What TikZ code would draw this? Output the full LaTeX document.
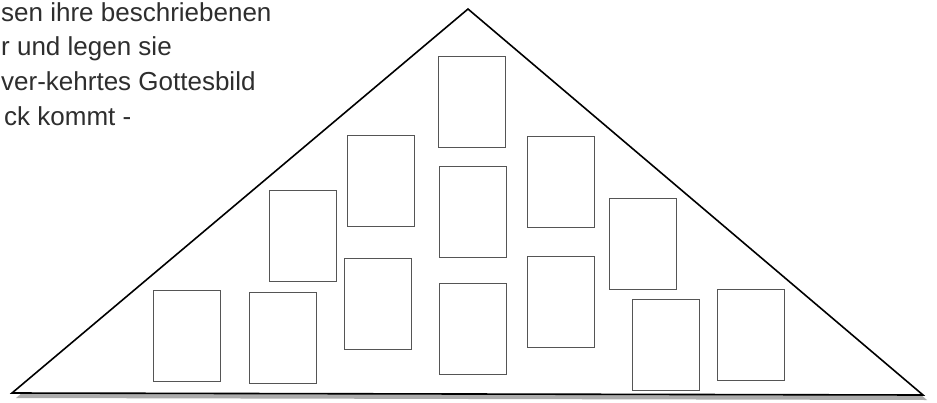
\documentclass[tikz,border=0pt]{standalone}
\usepackage{fontspec}
\setmainfont{Liberation Sans}
\usepackage{tikz}
\usetikzlibrary{positioning}
\definecolor{inkgray}{HTML}{2E2E2E}
\definecolor{cardline}{HTML}{555555}

\begin{document}
\begin{tikzpicture}[
  x=1pt, y=-1pt,
  card/.style={rectangle, draw=cardline, line width=0.9pt, minimum width=67pt, minimum height=91pt, inner sep=0pt},
  txt/.style={anchor=base west, inner sep=0pt, text=inkgray, font=\fontsize{26}{30}\selectfont},
  roof/.style={draw=black, line width=1.6pt, line join=miter, fill=white},
]
\useasboundingbox (0,0) rectangle (937,402);
\fill[white] (0,0) rectangle (937,402);

% text, cut off on the left
\node[txt] (l1) at (1,21) {sen ihre beschriebenen};
\node[txt] (l2) at (1,55) {r und legen sie};
\node[txt] (l3) at (1,90) {ver-kehrtes Gottesbild};
\node[txt] (l4) at (4,125) {ck kommt -};

% triangle with shadow
\coordinate (apex) at (468,9);
\coordinate (bl) at (12,393);
\coordinate (br) at (923,395);
\fill[gray!65] ([shift={(4,5)}]apex) -- ([shift={(4,5)}]bl) -- ([shift={(4,5)}]br) -- cycle;
\draw[roof] (apex) -- (bl) -- (br) -- cycle;

% cards
\node[card] (c1) at (472,102) {};
\node[card] (c2) at (381,181) {};
\node[card] (c3) at (472.5,211.5) {};
\node[card] (c4) at (561,182) {};
\node[card] (c5) at (303,236) {};
\node[card] (c6) at (643,244) {};
\node[card] (c7) at (378,304) {};
\node[card] (c8) at (473,329) {};
\node[card] (c9) at (561,302) {};
\node[card] (c10) at (187,335.5) {};
\node[card] (c11) at (283,337.5) {};
\node[card] (c12) at (665.5,344.5) {};
\node[card] (c13) at (750.5,335) {};
\end{tikzpicture}
\end{document}
